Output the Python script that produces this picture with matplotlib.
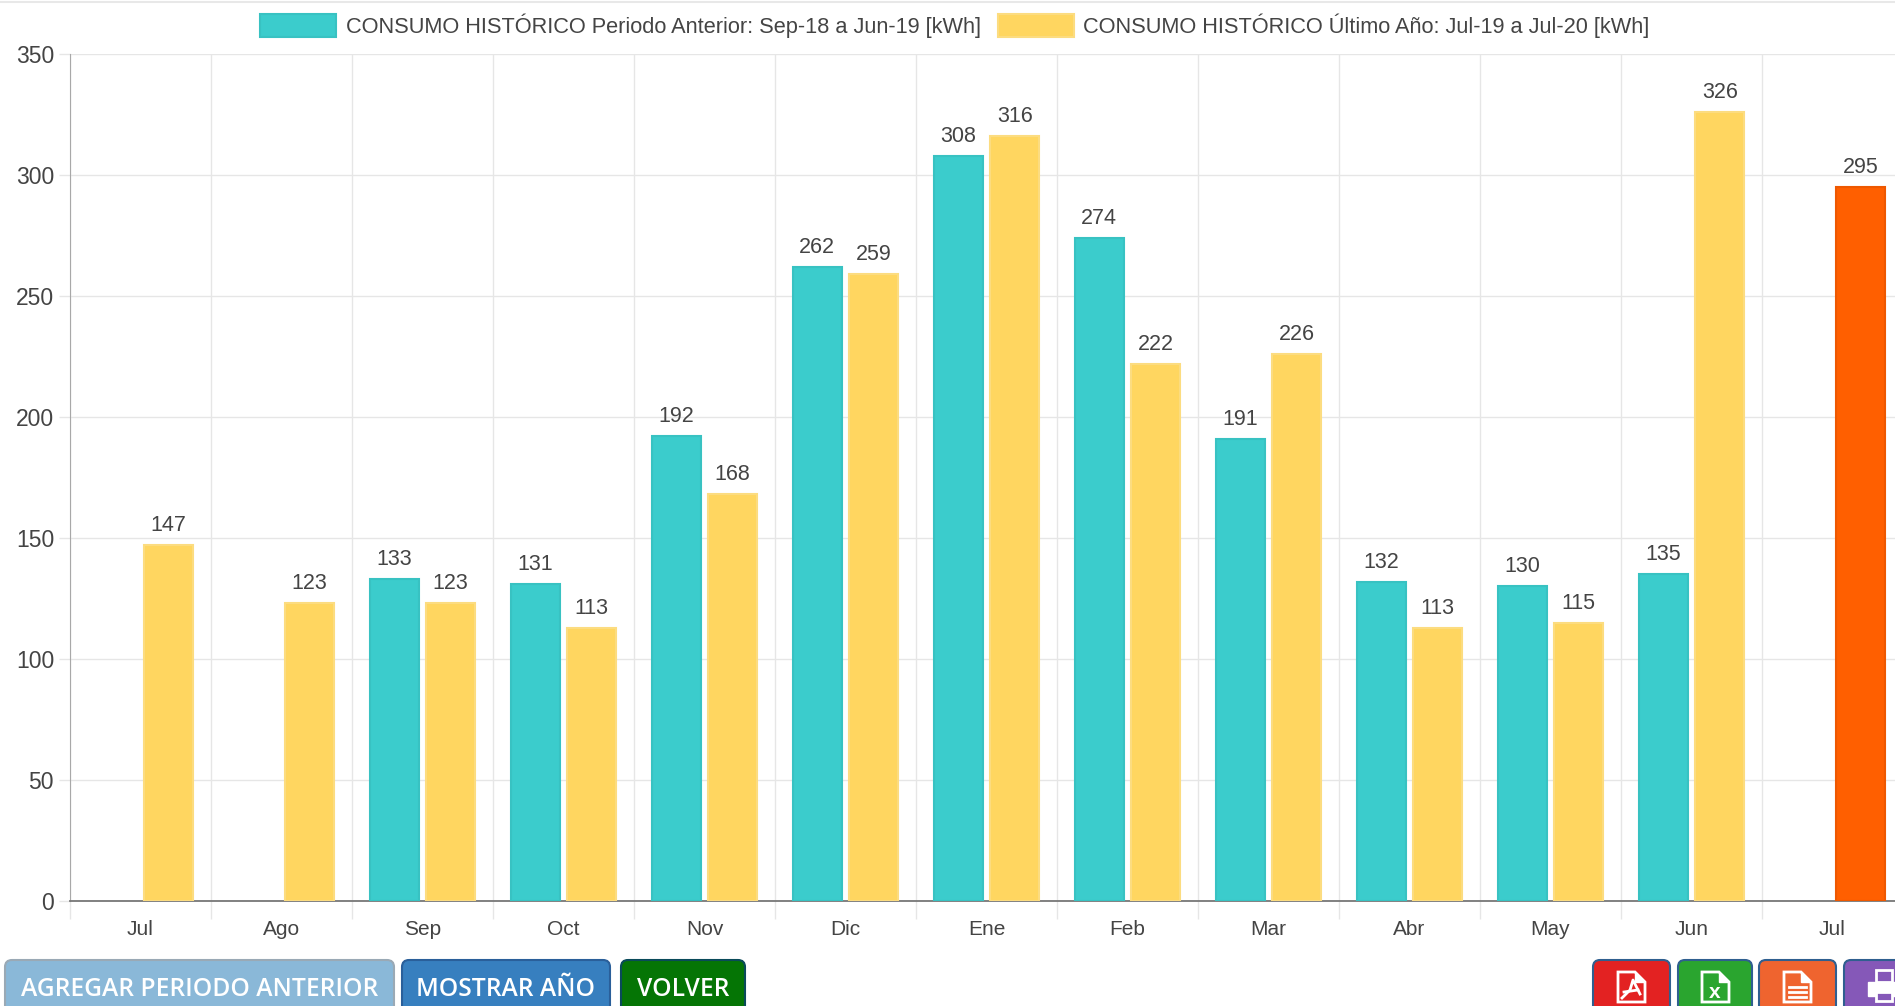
import matplotlib
matplotlib.use('Agg')
import matplotlib.pyplot as plt
from matplotlib.patches import FancyBboxPatch, Polygon, Rectangle
import numpy as np

plt.rcParams['font.family'] = ['Liberation Sans', 'DejaVu Sans']

months = ['Jul', 'Ago', 'Sep', 'Oct', 'Nov', 'Dic', 'Ene', 'Feb', 'Mar', 'Abr', 'May', 'Jun', 'Jul']
nan = float('nan')
periodo_anterior = [nan, nan, 133, 131, 192, 262, 308, 274, 191, 132, 130, 135, nan]
ultimo_anio = [147, 123, 123, 113, 168, 259, 316, 222, 226, 113, 115, 326, nan]
mes_actual = [nan, nan, nan, nan, nan, nan, nan, nan, nan, nan, nan, nan, 295]
label_anterior = 'CONSUMO HISTÓRICO Periodo Anterior: Sep-18 a Jun-19 [kWh]'
label_ultimo = 'CONSUMO HISTÓRICO Último Año: Jul-19 a Jul-20 [kWh]'
y_ticks = [0, 50, 100, 150, 200, 250, 300, 350]

TEAL = '#3bcccc'
YELLOW = '#ffd660'
ORANGE = '#ff5f00'
TEXT = '#444444'
W, H = 1895, 1006

fig = plt.figure(figsize=(W / 100, H / 100), dpi=100)
# el grafico sigue mas alla del borde derecho, por eso xlim termina antes de 13
left, right, top, bottom = 70, 1895, 54, 901
ax = fig.add_axes([left / W, 1 - bottom / H, (right - left) / W, (bottom - top) / H])

x = np.arange(len(months))
width = 0.345
offset = 0.2
b1 = ax.bar(x + 0.5 - offset, periodo_anterior, width, color=TEAL, edgecolor='#38c2c2', linewidth=1.5,
            label=label_anterior, zorder=3)
b2 = ax.bar(x + 0.5 + offset, ultimo_anio, width, color=YELLOW, edgecolor='#fcdc80', linewidth=1.5,
            label=label_ultimo, zorder=3)
b3 = ax.bar(x + 0.5 + offset, mes_actual, width, color=ORANGE, edgecolor='#ee5800', linewidth=1.5, zorder=3)

# valores encima de cada barra
for bars in [b1, b2, b3]:
    for rect in bars:
        h = rect.get_height()
        if not np.isnan(h):
            ax.annotate(f'{h:.0f}', xy=(rect.get_x() + rect.get_width() / 2, h), xytext=(0, 6.5),
                        textcoords='offset points', ha='center', va='bottom', fontsize=15.5, color=TEXT, zorder=4)

ax.set_xlim(0, (right - left) / 141.0)
ax.set_ylim(0, 350)
ax.set_yticks(y_ticks)
ax.set_xticks(np.arange(0, 13))
ax.set_xticklabels([])
ax.set_xticks(x + 0.5, minor=True)
ax.set_xticklabels(months, minor=True)
ax.grid(True, which='major', color='#e6e6e6', linewidth=1, zorder=0)
ax.set_axisbelow(True)
ax.tick_params(axis='x', which='major', length=13, color='#e6e6e6', width=1)
ax.tick_params(axis='x', which='minor', length=0, pad=13.5, labelsize=15, labelcolor=TEXT)
ax.tick_params(axis='y', length=8, color='#e6e6e6', width=1, pad=3.5, labelsize=16.5, labelcolor=TEXT)
for s in ['top', 'right']:
    ax.spines[s].set_visible(False)
ax.spines['left'].set_color('#a8a8a8')
ax.spines['bottom'].set_color('#777777')
ax.spines['bottom'].set_linewidth(1.3)

fig.legend(handles=[b1, b2], loc='upper left', bbox_to_anchor=(243 / W, 1 + 4 / H), ncols=2, frameon=False,
           fontsize=15.65, labelcolor=TEXT, handlelength=3.5, handleheight=1.2, handletextpad=0.45,
           columnspacing=0.75, borderpad=0.3)

# capa en pixeles para la barra de botones de la pagina
ui = fig.add_axes([0, 0, 1, 1])
ui.set_xlim(0, W)
ui.set_ylim(H, 0)
ui.axis('off')
ui.patch.set_alpha(0)
ui.plot([0, W], [2, 2], color='#e8e8e8', linewidth=1.5)


def button(x0, x1, color, edge, text=None):
    ui.add_patch(FancyBboxPatch((x0 + 4, 964), x1 - x0 - 8, 60, boxstyle='round,pad=4,rounding_size=7',
                                facecolor=color, edgecolor=edge, linewidth=1.5))
    if text:
        ui.text((x0 + x1) / 2, 989, text, ha='center', va='center', color='white', fontsize=17.7,
                fontweight='semibold', family=['Open Sans', 'DejaVu Sans'])


def doc_icon(cx, color):
    # hoja con esquina doblada
    pts = [(cx - 13, 972), (cx + 4, 972), (cx + 14, 982), (cx + 14, 1002), (cx - 13, 1002)]
    ui.add_patch(Polygon(pts, closed=True, facecolor=color, edgecolor='white', linewidth=2))
    ui.add_patch(Polygon([(cx + 4, 972), (cx + 4, 982), (cx + 14, 982)], closed=True, facecolor='white',
                         edgecolor='white', linewidth=1))


button(5, 394, '#8ab8d8', '#9aa9b5', 'AGREGAR PERIODO ANTERIOR')
button(402, 610, '#377fbf', '#2a5f9a', 'MOSTRAR AÑO')
button(621, 745, '#057505', '#0a4a5a', 'VOLVER')
button(1593, 1670, '#e32222', '#2f5f8f')
button(1678, 1752, '#2aa52f', '#2f5f8f')
button(1759, 1836, '#ef642f', '#2f5f8f')
button(1844, 1925, '#8558b8', '#2f5f8f')

doc_icon(1631, '#e32222')
ui.plot([1622, 1630, 1633, 1640], [998, 990, 980, 994], color='white', linewidth=2)
ui.plot([1624, 1638], [992, 990], color='white', linewidth=2)
doc_icon(1715, '#2aa52f')
ui.text(1715, 992, 'x', ha='center', va='center', color='white', fontsize=15, fontweight='bold')
doc_icon(1797, '#ef642f')
for yy in [987, 992, 997]:
    ui.plot([1789, 1806], [yy, yy], color='white', linewidth=2)
# impresora
ui.add_patch(Rectangle((1876, 970), 16, 12, facecolor='#8558b8', edgecolor='white', linewidth=2))
ui.add_patch(Rectangle((1868, 982), 27, 14, facecolor='white', edgecolor='white'))
ui.add_patch(Rectangle((1876, 992), 16, 9, facecolor='#8558b8', edgecolor='white', linewidth=2))

fig.savefig('out.png', dpi=100)
